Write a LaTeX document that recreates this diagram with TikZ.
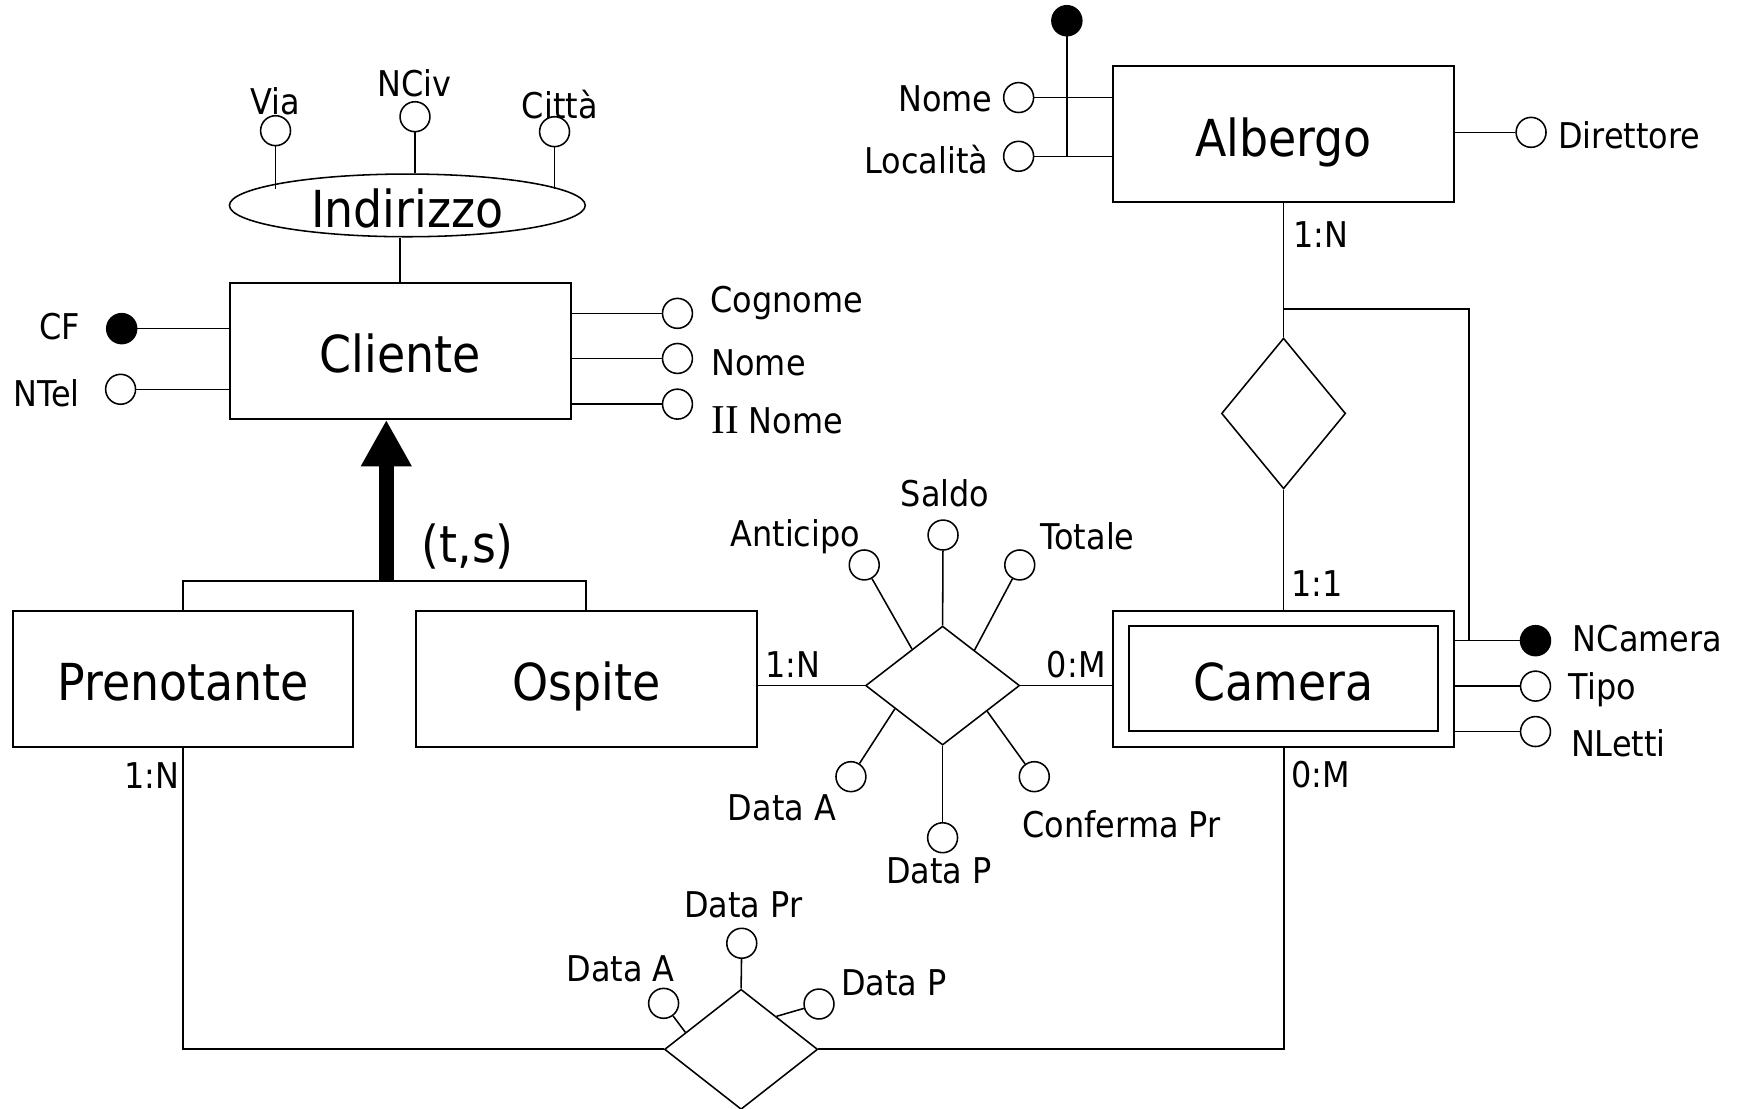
\documentclass[tikz,border=0pt]{standalone}
\usepackage{fontspec}
\setmainfont{DejaVu Sans}[FakeStretch=0.9]
\newfontfamily\romanII{Liberation Serif}
\usepackage{tikz}
\usetikzlibrary{
  arrows.meta,
  positioning,
  shapes.geometric,
}
\newcommand{\erBig}{\fontsize{23}{27}\selectfont}
\newcommand{\erSmall}{\fontsize{16}{19}\selectfont}
\tikzset{
  entity/.style={
    rectangle, draw, line width=0.9pt, inner sep=0pt,
    minimum width=153.7pt, minimum height=61.4pt, font=\erBig,
    text height=20pt, text depth=0pt,
  },
  weakIn/.style={
    entity, minimum width=139.4pt, minimum height=47.6pt,
  },
  relship/.style={
    diamond, draw, line width=0.7pt, inner sep=0pt, fill=white,
    minimum width=69.5pt, minimum height=53.7pt,
  },
  attr/.style={
    circle, draw, line width=0.7pt, fill=white, inner sep=0pt,
    minimum size=13.5pt,
  },
  keyAttr/.style={
    attr, fill=black,
  },
  attrName/.style={
    inner sep=0pt, font=\erSmall,
  },
  card/.style={
    inner sep=0pt, font=\erSmall,
  },
  link/.style={
    line width=0.7pt,
  },
  isaLine/.style={
    line width=1pt,
  },
  isaArrow/.style={
    -{Triangle[length=21pt,width=21.5pt]}, line width=6.7pt,
  },
}

\begin{document}
\begin{tikzpicture}[x=0.5pt, y=-0.5pt]
\useasboundingbox (0,0) rectangle (1568,1000);

% entities
\node[entity] (cliente) at (361,316.5) {Cliente};
\node[entity] (albergo) at (1158,121) {Albergo};
\node[entity] (prenotante) at (165.2,612.3) {Prenotante};
\node[entity] (ospite) at (529,612.3) {Ospite};
\node[entity] (camera) at (1158,612.3) {};
\node[weakIn] (cameraIn) at (camera) {Camera};

% composite attribute of Cliente
\node[ellipse, draw, line width=0.7pt, inner sep=0pt, minimum width=160.5pt,
      minimum height=27.4pt, font=\erBig, text height=20pt, text depth=0pt]
      (indirizzo) at (367.5,185.3) {Indirizzo};
\node[attr] (via) at (248.6,117.9) {};
\node[attr] (nciv) at (374.4,105.3) {};
\node[attr] (citta) at (500.3,118.8) {};
\node[attrName] (viaLbl) at (248.6,91.7) {Via};
\node[attrName] (ncivLbl) at (374,75.2) {NCiv};
\node[attrName] (cittaLbl) at (505,94.7) {Città};
\draw[link] (via) -- (via |- indirizzo.174);
\draw[link] (nciv) -- (nciv |- indirizzo.north);
\draw[link] (citta) -- (citta |- indirizzo.6);
\draw[link] (cliente.north) -- (cliente.north |- indirizzo.south);

% Cliente attributes
\node[keyAttr] (cf) at (109.8,296.5) {};
\node[attr] (ntel) at (108.8,351.2) {};
\node[attr] (cognome) at (611.2,282.7) {};
\node[attr] (nome) at (611.2,323.4) {};
\node[attr] (secNome) at (611.2,364.6) {};
\node[attrName] (cfLbl) at (54,295) {CF};
\node[attrName] (ntelLbl) at (42,354.9) {NTel};
\node[attrName, anchor=west] (cognomeLbl) at (640.6,273.6) {Cognome};
\node[attrName, anchor=west] (nomeLbl) at (641.5,326.9) {Nome};
\node[attrName, anchor=west] (secNomeLbl) at (641.5,379)
  {{\romanII\fontsize{18.5}{19}\selectfont II} Nome};
\draw[link] (cf) -- (cliente.west |- cf);
\draw[link] (ntel) -- (cliente.west |- ntel);
\draw[link] (cognome) -- (cliente.east |- cognome);
\draw[link] (nome) -- (cliente.east |- nome);
\draw[link] (secNome) -- (cliente.east |- secNome);

% generalization
\coordinate (isa) at (348.5,524.2);
\draw[isaLine] (prenotante.north) |- (isa) -| (ospite.north);
\draw[isaArrow] (isa) -- (isa |- cliente.south);
\node[font=\erBig, inner sep=0pt] (isaLbl) at (422,493.2) {(t,s)};

% Albergo attributes
\node[keyAttr] (albKey) at (962.5,18.7) {};
\node[attr] (nomeAlb) at (919,88) {};
\node[attr] (localita) at (919,141) {};
\node[attr] (direttore) at (1381.3,119.4) {};
\node[attrName, anchor=east] (nomeAlbLbl) at (895.6,89) {Nome};
\node[attrName, anchor=east] (localitaLbl) at (892,144.4) {Località};
\node[attrName, anchor=west] (direttoreLbl) at (1405.5,122) {Direttore};
\draw[link] (nomeAlb) -- (albergo.west |- nomeAlb);
\draw[link] (localita) -- (albergo.west |- localita);
\draw[link] (albKey) -- (albKey |- localita);
\draw[link] (direttore) -- (albergo.east |- direttore);

% Albergo -- Camera
\node[relship, minimum width=56pt, minimum height=68pt] (ubicazione) at (1158,373) {};
\draw[link] (albergo.south) -- (ubicazione.north);
\draw[link] (ubicazione.south) -- (camera.north);
\node[card] (cardAlb) at (1191.4,212) {1:N};
\node[card] (cardCamUp) at (1188.2,526.3) {1:1};

% Camera attributes and external identifier
\node[keyAttr] (ncamera) at (1385.3,578) {};
\node[attr] (tipo) at (1385.3,619) {};
\node[attr] (nletti) at (1385.3,660) {};
\node[attrName, anchor=west] (ncameraLbl) at (1418.7,576) {NCamera};
\node[attrName, anchor=west] (tipoLbl) at (1415,622) {Tipo};
\node[attrName, anchor=west] (nlettiLbl) at (1417,670.6) {NLetti};
\draw[link] (ncamera) -- (camera.east |- ncamera);
\draw[link] (tipo) -- (camera.east |- tipo);
\draw[link] (nletti) -- (camera.east |- nletti);
\coordinate (idKnee) at (1325.5,279);
\draw[link] (idKnee -| albergo) -- (idKnee) -- (idKnee |- ncamera);

% Ospite -- Camera
\node[relship] (soggiorno) at (850.4,618.5) {};
\draw[link] (ospite.east |- soggiorno) -- (soggiorno.west);
\draw[link] (soggiorno.east) -- (camera.west |- soggiorno);
\node[card] (cardOsp) at (715,600) {1:N};
\node[card] (cardCamSx) at (971,600) {0:M};
\node[attr] (anticipo) at (779.7,509.7) {};
\node[attr] (saldo) at (850.8,482.7) {};
\node[attr] (totale) at (920,509.7) {};
\node[attr] (dataArr) at (767.7,700.7) {};
\node[attr] (dataPar) at (850.4,755.8) {};
\node[attr] (conferma) at (933.1,700.7) {};
\node[attrName] (anticipoLbl) at (717.5,484.2) {Anticipo};
\node[attrName] (saldoLbl) at (852.6,445) {Saldo};
\node[attrName] (totaleLbl) at (981,484) {Totale};
\node[attrName] (dataArrLbl) at (705.5,729) {Data A};
\node[attrName] (dataParLbl) at (847,786) {Data P};
\node[attrName] (confermaLbl) at (1012,743.4) {Conferma Pr};
\draw[link] (anticipo) -- (soggiorno.130);
\draw[link] (saldo) -- (soggiorno.north);
\draw[link] (totale) -- (soggiorno.48);
\draw[link] (dataArr) -- (soggiorno.206);
\draw[link] (dataPar) -- (soggiorno.south);
\draw[link] (conferma) -- (soggiorno.330);

% Prenotante -- Camera
\node[relship, minimum width=69.1pt, minimum height=54.2pt] (prenotazione) at (668.6,946.7) {};
\draw[link, line width=0.9pt] (prenotante.south) |- (prenotazione.west);
\draw[link, line width=0.9pt] (camera.south) |- (prenotazione.east);
\node[card] (cardPren) at (137,700) {1:N};
\node[card] (cardCamDw) at (1191.2,699.2) {0:M};
\node[attr] (dataPren) at (669.2,851) {};
\node[attr] (dataArrB) at (598.7,905.2) {};
\node[attr] (dataParB) at (738.9,905.8) {};
\node[attrName] (dataPrenLbl) at (670.6,816.5) {Data Pr};
\node[attrName] (dataArrBLbl) at (560,873.6) {Data A};
\node[attrName] (dataParBLbl) at (806.6,887) {Data P};
\draw[link] (dataPren) -- (prenotazione.north);
\draw[link] (dataArrB) -- (prenotazione.163);
\draw[link] (dataParB) -- (prenotazione.43);

\end{tikzpicture}
\end{document}
